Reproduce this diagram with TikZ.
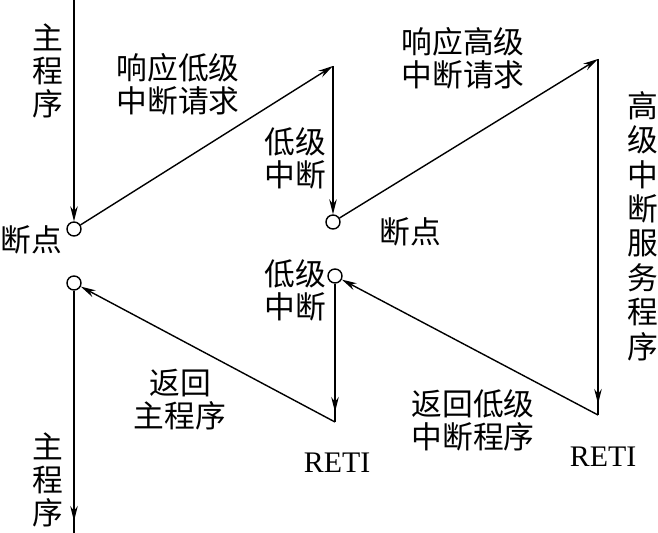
\documentclass[tikz,border=0pt]{standalone}
\usepackage{fontspec}
\setmainfont{Liberation Serif}
\newfontfamily\cjk{Noto Sans CJK SC}
\usepackage{tikz}
\usetikzlibrary{arrows.meta}

\tikzset{
  flow/.style={line width=0.8pt},
  tip/.style={-{Stealth[length=0.3cm,width=0.15cm]}},
  bp/.style={draw, circle, line width=0.8pt, minimum size=0.28cm, inner sep=0pt},
  lbl/.style={font=\cjk\fontsize{17.5}{18.8}\selectfont, align=center, inner sep=0pt},
  reti/.style={font=\fontsize{17}{20}\selectfont, inner sep=0pt}
}

\begin{document}
\begin{tikzpicture}[x=0.02cm, y=-0.02cm]
    \useasboundingbox (0,0) rectangle (658,533);
    % Nodes
    \coordinate (start) at (74,0);
    \node [bp] (bp1) at (74,229) {};
    \coordinate (top1) at (333,66);
    \node [bp] (bp2) at (333,222) {};
    \coordinate (top2) at (598,59);
    \coordinate (reti2) at (598,415);
    \coordinate (reti2tip) at (598,404);
    \node [bp] (ret1) at (335,276) {};
    \coordinate (reti1) at (335,422);
    \coordinate (reti1tip) at (335,412);
    \node [bp] (ret0) at (74,283) {};
    \coordinate (stop) at (74,533);
    \coordinate (stoptip) at (74,521);
    % Connectors
    \draw [flow, tip] (start) -- (bp1);
    \draw [flow, tip] (bp1) -- (top1);
    \draw [flow, tip] (top1) -- (bp2);
    \draw [flow, tip] (bp2) -- (top2);
    \draw [flow] (top2) -- (reti2);
    \draw [flow, tip] (top2) -- (reti2tip);
    \draw [flow, tip] (reti2) -- (ret1);
    \draw [flow] (ret1) -- (reti1);
    \draw [flow, tip] (ret1) -- (reti1tip);
    \draw [flow, tip] (reti1) -- (ret0);
    \draw [flow] (ret0) -- (stop);
    \draw [flow, tip] (ret0) -- (stoptip);
    % Labels
    \node [lbl] (main1) at (48,71) {主\\程\\序};
    \node [lbl] (lowreq) at (178,84) {响应低级\\中断请求};
    \node [lbl] (lowint1) at (295,158) {低级\\中断};
    \node [lbl] (bp1lbl) at (31,240) {断点};
    \node [lbl] (highreq) at (463,58) {响应高级\\中断请求};
    \node [lbl] (bp2lbl) at (410,232) {断点};
    \node [lbl, font=\cjk\fontsize{17.5}{19.6}\selectfont] (highserv) at (643,226)
      {高\\级\\中\\断\\服\\务\\程\\序};
    \node [lbl] (lowint2) at (295,290) {低级\\中断};
    \node [lbl] (retmain) at (180,400) {返回\\主程序};
    \node [reti] (retilbl1) at (337,463) {RETI};
    \node [lbl] (retlow) at (473,420) {返回低级\\中断程序};
    \node [reti] (retilbl2) at (603,457) {RETI};
    \node [lbl] (main2) at (48,480) {主\\程\\序};
\end{tikzpicture}
\end{document}
